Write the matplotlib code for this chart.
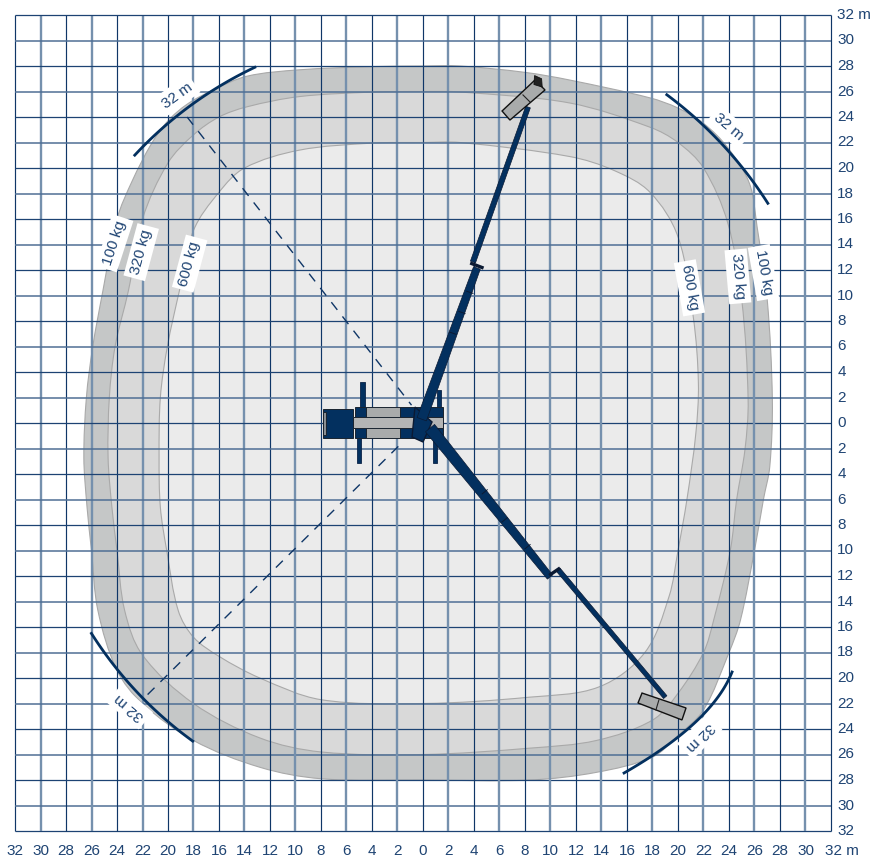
import numpy as np
import matplotlib
matplotlib.use("Agg")
import matplotlib.pyplot as plt
from matplotlib.path import Path
from matplotlib.patches import PathPatch, Polygon

plt.rcParams['font.family'] = ['Liberation Sans Narrow', 'Liberation Sans', 'DejaVu Sans']

DARK = '#0f3667'
LIGHT = '#7590ad'
BLUE = '#03305f'
TXT = '#1f4473'

# Working-envelope outlines, metres, clockwise from the top
env_100_x = [0, 2.9, 8, 11.5, 17.8, 20, 22, 23.9, 25.6, 26.2, 27, 27.4, 27.2, 26.7, 26, 24.9, 24, 22, 19.9, 18, 13.6, 8.4, 0,
             -8, -12.8, -18, -22, -24, -25.5, -26, -26.35, -26.6, -26.4, -25.9, -25.1, -24, -22.8, -21.3, -20, -18.5, -16.5, -13.8, -9.7, -4]
env_100_y = [28, 28, 27.5, 26.9, 25.5, 24.7, 23.5, 21.6, 18.8, 15.4, 9.65, 1.8, -3.4, -6, -10, -15.45, -18, -22.5, -24.6, -26.2, -27.4, -28, -28,
             -27.9, -27, -24.9, -22, -19.4, -14.7, -10, -6.6, -2.7, 2, 6, 10.4, 16, 19, 21.9, 23.7, 25, 26.1, 27.2, 27.7, 27.95]
env_320_x = [0, 2.9, 11.5, 17.8, 20, 22, 23.9, 25, 25.5, 25.25, 24.6, 24.1, 22.8, 22, 20, 18, 13.6, 8.4, 0,
             -8, -12.8, -18, -22, -23.4, -24, -24.4, -24.7, -24.6, -24.15, -23.1, -22, -20, -18, -16, -13.8, -9.7, -4]
env_320_y = [26, 25.96, 25.1, 23.2, 22, 20, 15.7, 9.65, 1.8, -2.1, -6, -10, -15.45, -18, -21.2, -23.3, -24.9, -25.5, -26,
             -25.8, -24.7, -22, -18.2, -14.7, -10, -6.6, -2.7, 2, 6, 10.4, 16, 20.4, 22.6, 24, 24.8, 25.6, 25.95]
env_600_x = [0, 2.9, 11.5, 15, 17.8, 20, 21.2, 21.6, 21.4, 20.7, 20, 19.3, 17.4, 13.8, 8.4, 0,
             -8, -12.8, -16, -18, -19.2, -20.1, -20.6, -20.7, -20.6, -20.05, -19.1, -18, -16, -14, -9.7, -4]
env_600_y = [22, 22, 20.9, 19.8, 18.1, 14.6, 8.3, 3.1, -0.8, -6, -10, -13.6, -18, -20.7, -21.5, -22,
             -21.7, -20, -18.3, -16.8, -14.7, -10, -6.6, -2.7, 2, 6, 10.4, 15.1, 18.1, 20, 21.4, 21.95]

# Reach arcs
arc_radius = [30.86, 32.07, 30.8]
arc_start = [137.1, 53.4, -147.6]
arc_end = [115.3, 32.5, -125.9]
arc_br_x = [15.77, 19.92, 24.24]
arc_br_y = [-27.45, -24.7, -19.53]

# Dashed reach lines
dash_x = [[-18.5, -0.9], [-21.6, -1.8]]
dash_y = [[24.0, 1.4], [-21.3, -1.7]]

# Booms: start, end, start width, end width
booms = [((-0.1, 0.3), (4.23, 12.16), 0.78, 0.56),
         ((3.92, 12.63), (8.24, 24.78), 0.42, 0.38),
         ((0.55, -0.4), (9.96, -12.08), 0.92, 0.52),
         ((10.6, -11.5), (19.0, -21.5), 0.38, 0.34)]
flanges = [((3.7, 12.55), (4.75, 12.15)), ((9.9, -11.95), (10.75, -11.37))]
# Section joints along the thick booms: x, y, direction (deg) of the joint line
joints_x = [2.35, 3.05, 3.67, 4.84, 6.4, 8.2]
joints_y = [7.04, 8.67, 10.25, -5.4, -7.6, -9.7]
joints_a = [-19, -19, -19, 39, 39, 39]

platform_top = [(6.2, 24.47), (6.82, 23.76), (9.57, 26.12), (8.78, 26.9)]
divider_top = [(7.84, 25.73), (8.39, 25.18)]
basket_top = [(8.7, 26.55), (8.75, 27.25), (9.3, 27.0), (9.35, 26.35)]
platform_bot = [(17.18, -21.18), (16.86, -21.96), (20.31, -23.29), (20.63, -22.35)]
divider_bot = [(18.5, -21.73), (18.27, -22.5)]

# Truck rectangles: x0, x1, y0, y1, colour
outriggers = [(-4.94, -4.55, 1.25, 3.2), (-5.18, -4.86, -3.14, -1.18), (1.1, 1.41, 1.25, 2.6), (0.78, 1.1, -3.14, -1.18)]
truck_parts = [(-7.84, -5.49, -1.18, 1.1, BLUE), (-7.84, -7.6, -0.95, 0.9, '#8a8f94'),
               (-5.33, -4.47, -1.18, 1.25, BLUE), (-4.47, -1.8, -1.18, 1.25, '#a9abab'),
               (-1.8, 1.57, -1.18, 1.25, BLUE), (-5.49, 1.57, -0.39, 0.47, '#b4b5b5')]
turret = [(-0.63, 1.25), (0.71, 0.08), (0.0, -1.49), (-0.86, -1.1)]

# Labels: text, x, y (m), rotation
rot_labels = [('32 m', -19.3, 25.7, 36), ('32 m', 24.0, 23.2, -40), ('32 m', 21.7, -24.6, 225), ('32 m', -23.0, -22.3, 140),
              ('100 kg', -24.2, 14.1, 72), ('320 kg', -22.1, 13.4, 75), ('600 kg', -18.3, 12.5, 75),
              ('600 kg', 20.9, 10.6, -80), ('320 kg', 24.7, 11.5, -85), ('100 kg', 26.7, 11.8, -80)]
ticks = list(range(-32, 33, 2))


def smooth_closed(xs, ys):
    p = np.column_stack([xs, ys]).astype(float)
    n = len(p)
    tang = []
    for i in range(n):
        d = p[(i + 1) % n] - p[(i - 1) % n]
        tang.append(d / np.hypot(*d))
    verts = [p[0]]
    codes = [Path.MOVETO]
    for i in range(n):
        j = (i + 1) % n
        L = np.hypot(*(p[j] - p[i])) / 3
        verts += [p[i] + tang[i] * L, p[j] - tang[j] * L, p[j]]
        codes += [Path.CURVE4] * 3
    return Path(verts, codes)


def beam(p0, p1, w0, w1):
    a, b = np.array(p0), np.array(p1)
    d = (b - a) / np.hypot(*(b - a))
    n = np.array([-d[1], d[0]])
    return [a + n * w0 / 2, b + n * w1 / 2, b - n * w1 / 2, a - n * w0 / 2]


S = 12.75
fig = plt.figure(figsize=(8.76, 8.61), dpi=100)
ax = fig.add_axes([0, 0, 1, 1])
ax.set_xlim(-423 / S, (876 - 423) / S)
ax.set_ylim((423 - 861) / S, 423 / S)
ax.axis('off')

for xs, ys, col in [(env_100_x, env_100_y, '#c5c7c7'), (env_320_x, env_320_y, '#d9d9d9'), (env_600_x, env_600_y, '#ebebeb')]:
    ax.add_patch(PathPatch(smooth_closed(xs, ys), fc=col, ec='#a9a9a9', lw=0.8, zorder=1))

for t in ticks:
    light = (t % 4 == 2)
    ax.plot([t, t], [-32, 32], color=LIGHT if light else DARK, lw=1.7 if light else 0.85, zorder=2, solid_capstyle='butt')
    ax.plot([-32, 32], [t, t], color='#4f6f95' if light else '#1d4373', lw=1.1 if light else 0.9, zorder=2, solid_capstyle='butt')

for xs, ys in zip(dash_x, dash_y):
    ax.plot(xs, ys, color=DARK, lw=1.0, dashes=(7, 6), zorder=3)

for text, x, y, rot in rot_labels:
    ax.text(x, y, text, rotation=rot, rotation_mode='anchor', ha='center', va='center', fontsize=11, color=TXT, zorder=5,
            bbox=dict(fc='white', ec='none', pad=3))

for r, a0, a1 in zip(arc_radius, arc_start, arc_end):
    th = np.radians(np.linspace(a0, a1, 60))
    ax.plot(r * np.cos(th), r * np.sin(th), color=BLUE, lw=2.0, zorder=6)
# lower-right arc is slightly off-centre
c = np.polyfit(arc_br_y, arc_br_x, 2)
yy = np.linspace(arc_br_y[0], arc_br_y[-1], 50)
ax.plot(np.polyval(c, yy), yy, color=BLUE, lw=2.0, zorder=6)

# Truck
for x0, x1, y0, y1 in outriggers:
    ax.add_patch(Polygon([(x0, y0), (x1, y0), (x1, y1), (x0, y1)], fc=BLUE, ec='#0b2347', lw=0.6, zorder=7))
for x0, x1, y0, y1, col in truck_parts:
    ax.add_patch(Polygon([(x0, y0), (x1, y0), (x1, y1), (x0, y1)], fc=col, ec='#1a2430', lw=0.7, zorder=7))
ax.add_patch(Polygon(turret, fc=BLUE, ec='#0b1a33', lw=1.0, zorder=8))

# Booms and platforms
for p0, p1, w0, w1 in booms:
    ax.add_patch(Polygon(beam(p0, p1, w0, w1), fc=BLUE, ec='#0b1a33', lw=0.5, zorder=9))
for x, y, a in zip(joints_x, joints_y, joints_a):
    dx, dy = 0.26 * np.cos(np.radians(a)), 0.26 * np.sin(np.radians(a))
    ax.plot([x - dx, x + dx], [y - dy, y + dy], color='#0b1a33', lw=0.7, zorder=10)
for a, b in flanges:
    ax.plot([a[0], b[0]], [a[1], b[1]], color='#0b1a33', lw=2.4, zorder=10, solid_capstyle='butt')
for pts, div in [(platform_top, divider_top), (platform_bot, divider_bot)]:
    ax.add_patch(Polygon(pts, fc='#a9abab', ec='#111111', lw=1.0, zorder=10))
    ax.plot([div[0][0], div[1][0]], [div[0][1], div[1][1]], color='#222222', lw=0.8, zorder=11)
ax.add_patch(Polygon(basket_top, fc='#222222', ec='#111111', lw=0.6, zorder=11))

# Tick labels
for t in ticks:
    lab = str(abs(t))
    if t == 32:
        ax.text(t - 0.5, -33.6, lab + ' m', ha='left', va='center', fontsize=11, color=TXT)
        ax.text(32.5, t, lab + ' m', ha='left', va='center', fontsize=11, color=TXT)
    else:
        ax.text(t, -33.6, lab, ha='center', va='center', fontsize=11, color=TXT)
        ax.text(32.5, t, lab, ha='left', va='center', fontsize=11, color=TXT)

fig.savefig('out.png', dpi=100)
